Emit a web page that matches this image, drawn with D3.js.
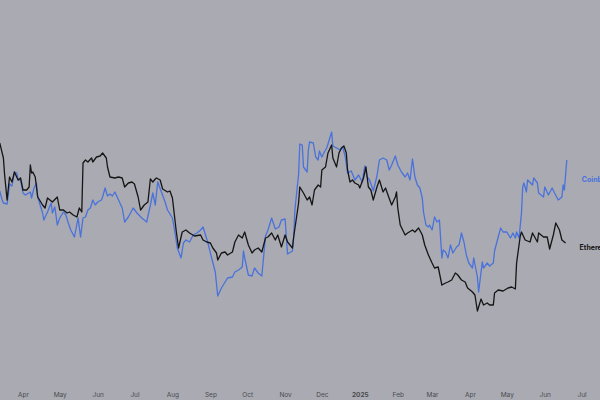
<!DOCTYPE html>
<html>
<head>
<meta charset="utf-8">
<script src="https://cdn.jsdelivr.net/npm/d3@7"></script>
<style>
  html, body { margin: 0; padding: 0; background: #a9aab2; }
  svg { display: block; }
</style>
</head>
<body>
<svg id="chart" width="600" height="400"></svg>
<script>
// Days since 2024-04-01 and normalized index values
const startDate = "2024-04-01";

const ethDays = [-19,-16,-15,-13,-11,-9,-7,-4,-2,0,
  3,5,6,7,8,10,12,16,18,20,
  22,24,28,30,33,36,38,41,44,46,
  48,49,51,53,56,57,60,63,65,68,
  69,71,75,78,81,83,86,89,91,94,
  96,99,102,104,106,108,109,112,114,118,
  120,122,125,127,130,133,136,140,145,147,
  150,153,155,158,159,162,165,167,171,173,
  176,179,181,184,187,189,192,195,198,200,
  203,206,208,211,214,216,220,221,223,225,
  226,229,232,234,236,238,241,243,244,247,
  249,252,253,256,258,260,262,264,265,267,
  269,271,274,275,278,280,282,284,286,289,
  291,294,296,298,301,304,305,306,308,310,
  312,314,318,320,323,326,328,331,334,336,
  339,342,345,347,350,353,355,358,361,363,
  367,369,371,374,376,379,381,384,385,388,
  392,396,399,402,403,406,407,410,414,416,
  420,421,425,428,430,433,435,438,440,443];

const ethValues = [187,172,155,130,153,148,158,150,152,140,
  140,143,165,157,158,153,133,125,122,132,
  130,128,133,120,120,117,118,115,113,122,
  118,167,170,168,172,168,173,174,177,172,
  163,153,152,153,152,143,147,148,146,133,
  120,125,128,151,148,151,152,150,141,138,
  139,132,100,82,98,100,97,94,95,90,
  88,87,82,77,70,77,78,75,78,88,
  95,92,98,85,77,80,82,78,92,93,
  97,90,95,83,95,88,82,93,110,127,
  143,137,130,133,125,140,145,143,160,163,
  177,185,172,163,177,182,184,177,160,148,
  150,147,145,142,152,163,143,140,130,143,
  150,138,142,135,125,133,138,122,105,100,
  95,97,100,98,102,95,85,75,67,62,
  63,45,47,48,50,57,55,50,48,42,
  38,35,19,31,25,27,25,25,37,40,
  39,42,43,41,67,94,98,90,88,97,
  88,97,93,93,81,95,107,100,90,87];

const coinDays = [-19,-17,-16,-13,-12,-11,-9,-7,-5,-4,
  -2,0,2,6,7,9,11,12,16,17,
  20,23,24,26,28,30,33,35,37,39,
  42,45,47,49,51,53,55,57,59,61,
  64,65,67,69,71,73,75,78,81,83,
  86,90,93,97,101,104,106,108,110,113,
  116,118,122,124,126,129,131,133,136,139,
  142,145,147,149,151,154,157,159,162,165,
  167,171,173,176,179,180,181,184,187,189,
  192,195,198,200,203,206,209,211,214,216,
  220,221,222,224,225,226,228,229,232,233,
  234,237,239,241,242,244,246,248,250,252,
  253,256,259,261,263,265,268,271,274,277,
  279,281,283,286,289,291,294,297,299,301,
  304,306,309,312,314,316,318,320,322,324,
  326,327,329,331,332,334,336,338,340,342,
  343,345,347,349,351,354,356,358,360,362,
  364,367,368,371,372,375,376,379,381,384,
  385,388,390,392,395,398,400,402,403,405,
  407,408,409,411,412,416,417,420,421,425,
  426,429,432,434,437,440,441,442,444];

const coinValues = [139,130,127,126,135,146,144,158,157,150,
  150,137,135,138,132,142,147,133,117,110,
  118,127,117,123,105,112,118,115,107,100,
  93,112,93,112,113,120,122,130,125,128,
  130,133,142,134,136,134,138,130,122,108,
  113,122,117,112,108,125,137,125,148,138,
  128,120,112,98,82,72,87,90,88,95,
  97,100,103,95,87,72,58,34,42,48,
  52,53,58,60,63,79,72,55,54,62,
  57,54,94,100,112,101,103,110,111,76,
  79,93,120,144,155,186,185,163,158,180,
  188,187,173,170,179,173,178,182,190,198,
  184,182,180,183,174,157,159,150,155,148,
  164,153,150,139,154,170,172,170,160,165,
  174,165,158,153,157,150,171,153,145,142,
  132,118,105,103,105,100,113,108,110,72,
  80,78,72,85,77,83,85,97,88,75,
  67,62,72,53,38,68,62,67,64,67,
  79,93,102,98,98,92,97,92,98,92,
  117,143,147,138,150,145,152,147,137,133,
  143,135,142,137,130,133,145,140,170];

const tickDates = ["2024-04-01","2024-05-01","2024-06-01","2024-07-01","2024-08-01",
  "2024-09-01","2024-10-01","2024-11-01","2024-12-01","2025-01-01","2025-02-01",
  "2025-03-01","2025-04-01","2025-05-01","2025-06-01","2025-07-01"];
const tickLabels = ["Apr","May","Jun","Jul","Aug","Sep","Oct","Nov","Dec","2025",
  "Feb","Mar","Apr","May","Jun","Jul"];

const seriesNames = ["Coinbase", "Ethereum"];

// ---- drawing ----
const svg = d3.select("#chart");
const W = 600, H = 400;
const parse = d3.timeParse("%Y-%m-%d");
const start = parse(startDate);
const toDate = d => d3.timeDay.offset(start, d);

const x = d3.scaleTime()
  .domain([parse("2024-04-01"), parse("2025-07-01")])
  .range([23, 581.5]);
const y = d3.scaleLinear().domain([0, 200]).range([330, 130]);

svg.append("rect").attr("width", W).attr("height", H).attr("fill", "#a9aab2");

const line = d3.line()
  .x(d => x(toDate(d[0])))
  .y(d => y(d[1]));

const eth = ethDays.map((d, i) => [d, ethValues[i]]);
const coin = coinDays.map((d, i) => [d, coinValues[i]]);

svg.append("path").datum(coin)
  .attr("d", line).attr("fill", "none")
  .attr("stroke", "#4a72dc").attr("stroke-width", 1.3)
  .attr("stroke-linejoin", "round");

svg.append("path").datum(eth)
  .attr("d", line).attr("fill", "none")
  .attr("stroke", "#151515").attr("stroke-width", 1.3)
  .attr("stroke-linejoin", "round");

// axis
const axis = d3.axisBottom(x)
  .tickValues(tickDates.map(parse))
  .tickFormat((d, i) => tickLabels[i])
  .tickSize(0);
const gx = svg.append("g").attr("transform", "translate(0,389)").call(axis);
gx.select(".domain").remove();
gx.selectAll("text")
  .attr("font-family", "Inter, 'Liberation Sans', sans-serif")
  .attr("font-size", 6.5)
  .attr("fill", "#4a4a4f")
  .attr("font-weight", (d, i) => tickLabels[i] === "2025" ? 700 : 400);

// end labels
const lastCoin = coin[coin.length - 1];
const lastEth = eth[eth.length - 1];
svg.append("text")
  .attr("x", x(toDate(lastCoin[0])) + 15)
  .attr("y", y(lastCoin[1]) + 20)
  .attr("dy", "0.35em")
  .attr("font-family", "Inter, 'Liberation Sans', sans-serif")
  .attr("font-size", 7).attr("font-weight", 700)
  .attr("fill", "#4a72dc")
  .text(seriesNames[0]);
svg.append("text")
  .attr("x", x(toDate(lastEth[0])) + 14)
  .attr("y", y(lastEth[1]) + 5)
  .attr("dy", "0.35em")
  .attr("font-family", "Inter, 'Liberation Sans', sans-serif")
  .attr("font-size", 7).attr("font-weight", 700)
  .attr("fill", "#151515")
  .text(seriesNames[1]);
</script>
</body>
</html>
